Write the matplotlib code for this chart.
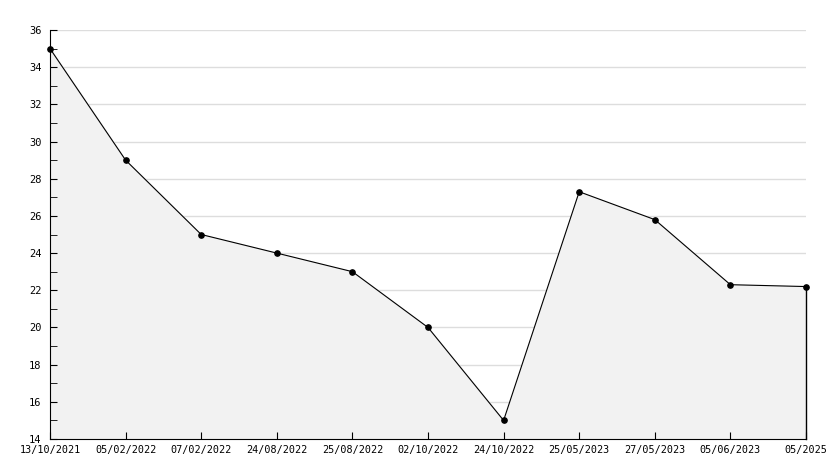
import matplotlib
matplotlib.use("Agg")
import matplotlib.pyplot as plt
from matplotlib.ticker import MultipleLocator

# ── Data ─────────────────────────────────────
dates = ["13/10/2021", "05/02/2022", "07/02/2022", "24/08/2022", "25/08/2022",
         "02/10/2022", "24/10/2022", "25/05/2023", "27/05/2023", "05/06/2023",
         "05/2025"]
values = [35, 29, 25, 24, 23, 20, 15, 27.3, 25.8, 22.3, 22.2]
y_grid = [16, 18, 20, 22, 24, 26, 28, 30, 32, 34, 36]

plt.rcParams["font.family"] = "DejaVu Sans Mono"

fig = plt.figure(figsize=(8.34, 4.68), dpi=100)
ax = fig.add_axes([50 / 834, 29 / 468, 756 / 834, 409 / 468])

# grid behind the filled area
for g in y_grid:
    ax.axhline(g, color="#dddddd", linewidth=1, zorder=0.5)

x = list(range(len(dates)))
ax.fill_between(x, values, 14, color="#f2f2f2", zorder=1)
ax.plot(x, values, color="black", linewidth=0.8, marker="o", markersize=3.8,
        zorder=3, clip_on=False)
ax.plot([x[-1], x[-1]], [14, values[-1]], color="black", linewidth=1,
        zorder=3, clip_on=False)

ax.set_xlim(0, len(dates) - 1)
ax.set_ylim(14, 36)
ax.set_xticks(x)
ax.set_xticklabels(dates)
ax.yaxis.set_major_locator(MultipleLocator(2))
ax.yaxis.set_minor_locator(MultipleLocator(1))

for s in ["top", "right"]:
    ax.spines[s].set_visible(False)
ax.tick_params(axis="x", which="major", direction="in", length=5, labelsize=7.3, pad=4)
ax.tick_params(axis="y", which="major", direction="in", length=5, labelsize=7.5, pad=6)
ax.tick_params(axis="y", which="minor", direction="in", length=5)

plt.savefig("out.png", dpi=100)
